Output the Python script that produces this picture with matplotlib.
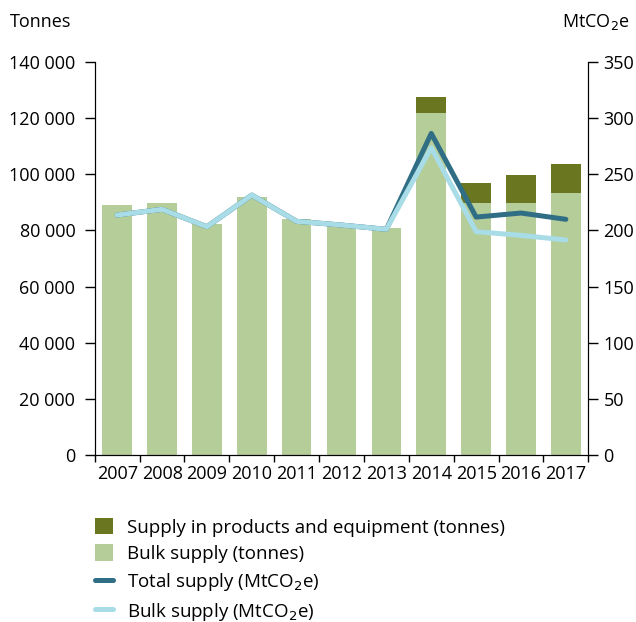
import matplotlib
matplotlib.use("Agg")
import matplotlib.pyplot as plt
import numpy as np
from matplotlib.patches import Patch
from matplotlib.lines import Line2D
from matplotlib.ticker import FuncFormatter

plt.rcParams['font.family'] = ['Open Sans', 'DejaVu Sans']

years = ['2007', '2008', '2009', '2010', '2011', '2012', '2013', '2014', '2015', '2016', '2017']
bulk_tonnes = [89000, 89700, 82400, 92000, 84000, 82200, 81000, 121800, 89800, 89800, 93500]
products_tonnes = [0, 0, 0, 0, 0, 0, 0, 5700, 7200, 10100, 10100]
total_mtco2e = [213.7, 218.8, 203.3, 231.5, 208.1, 204.8, 201.0, 286.4, 211.9, 215.5, 209.9]
bulk_mtco2e = [213.7, 218.8, 203.3, 231.5, 208.1, 204.8, 201.0, 273.7, 198.9, 195.6, 191.5]

c_prod = '#6b7720'
c_bulk = '#b5cd98'
c_total_line = '#2f6e84'
c_bulk_line = '#a8dce6'

FS = 13

fig = plt.figure(figsize=(6.36, 6.22), dpi=100)
ax = fig.add_axes([0.149, 0.2685, 0.776, 0.6318])
x = np.arange(len(years))

ax.bar(x, bulk_tonnes, width=0.66, color=c_bulk, zorder=2)
ax.bar(x, products_tonnes, width=0.66, bottom=bulk_tonnes, color=c_prod, zorder=2)

ax.set_xlim(-0.5, len(years) - 0.5)
ax.set_ylim(0, 140000)
ax.set_yticks(np.arange(0, 140001, 20000))
ax.yaxis.set_major_formatter(FuncFormatter(lambda v, p: f"{int(v):,}".replace(',', ' ')))
ax.set_xticks(x)
ax.set_xticklabels(years)
ax.set_xticks(np.arange(-0.5, len(years), 1), minor=True)
ax.tick_params(axis='x', which='major', length=0, labelsize=FS, pad=7)
ax.tick_params(axis='x', which='minor', length=5, width=1)
ax.tick_params(axis='y', length=7.5, width=1, labelsize=FS, pad=6.5)
ax.spines['top'].set_visible(False)

ax2 = ax.twinx()
ax2.set_ylim(0, 350)
ax2.set_yticks(np.arange(0, 351, 50))
ax2.tick_params(axis='y', length=7.5, width=1, labelsize=FS, pad=3.5)
ax2.spines['top'].set_visible(False)
ax2.plot(x, total_mtco2e, color=c_total_line, lw=3.6, solid_capstyle='round', solid_joinstyle='round', zorder=3)
ax2.plot(x, bulk_mtco2e, color=c_bulk_line, lw=3.6, solid_capstyle='round', solid_joinstyle='round', zorder=4)

fig.text(10 / 636, 1 - 22 / 622, 'Tonnes', fontsize=FS, ha='left', va='center')
fig.text(630 / 636, 1 - 22 / 622, 'MtCO$_2$e', fontsize=FS, ha='right', va='center')

handles = [
    Patch(facecolor=c_prod, edgecolor='none'),
    Patch(facecolor=c_bulk, edgecolor='none'),
    Line2D([0], [0], color=c_total_line, lw=3.6, solid_capstyle='round'),
    Line2D([0], [0], color=c_bulk_line, lw=3.6, solid_capstyle='round'),
]
labels = [
    'Supply in products and equipment (tonnes)',
    'Bulk supply (tonnes)',
    'Total supply (MtCO$_2$e)',
    'Bulk supply (MtCO$_2$e)',
]
fig.legend(handles, labels, loc='upper left', bbox_to_anchor=(95 / 636, 1 - 518 / 622),
           frameon=False, fontsize=13.5, handlelength=0.95, handleheight=0.95,
           handletextpad=0.75, labelspacing=0.42, borderaxespad=0, borderpad=0)

fig.savefig('out.png', dpi=100)
